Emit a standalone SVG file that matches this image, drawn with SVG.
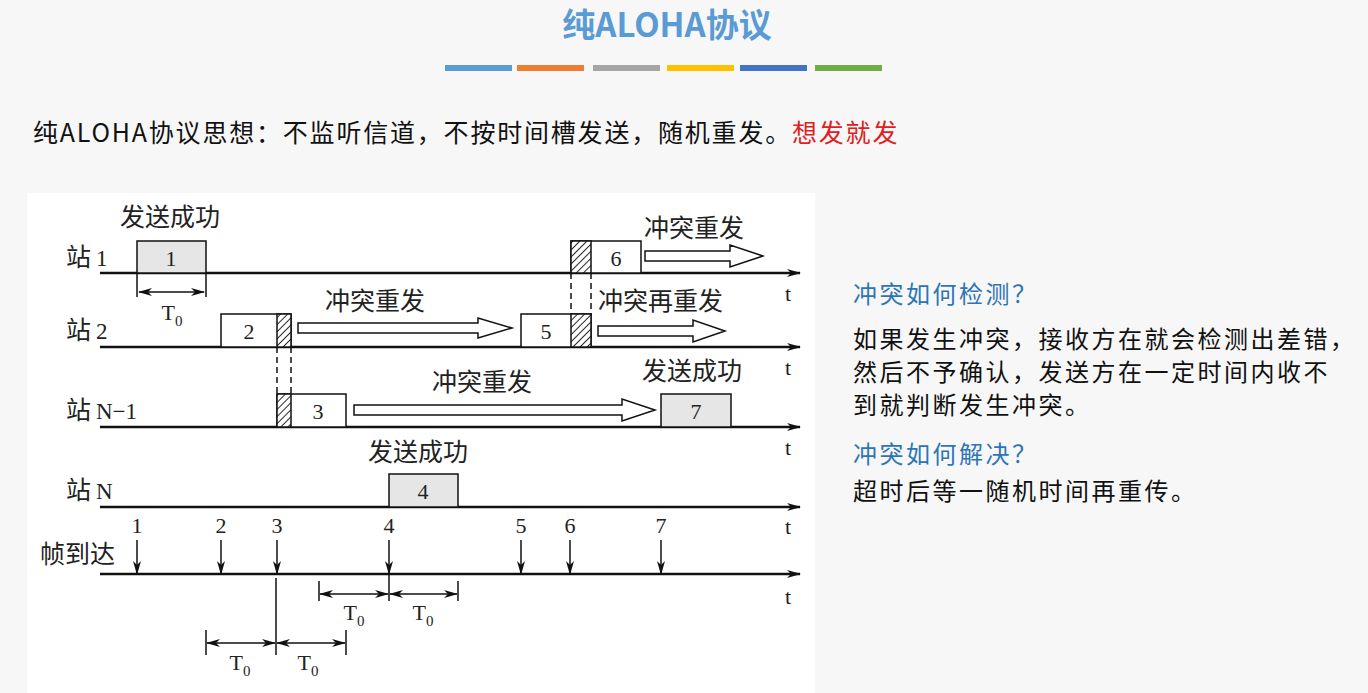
<svg xmlns="http://www.w3.org/2000/svg" width="1368" height="693" viewBox="0 0 1368 693">
<style>
.s{font-family:"Liberation Serif","Noto Sans CJK SC",serif;font-size:23px;fill:#222}
.n{font-family:"Liberation Serif",serif;font-size:22px;fill:#222;text-anchor:middle}
.c{font-family:"Noto Sans CJK SC",sans-serif;font-size:25px;fill:#222}
.ax{stroke:#111;stroke-width:2.5;fill:none;marker-end:url(#ah)}
.ln{stroke:#111;stroke-width:1.5;fill:none}
.fr{stroke:#111;stroke-width:1.5;fill:#fff}
.g{stroke:#111;stroke-width:1.5;fill:#e6e6e6}
.h{stroke:#111;stroke-width:1.5;fill:url(#hatch)}
.ha{stroke:#111;stroke-width:1.5;fill:#fff}
.dm{stroke:#111;stroke-width:1.5;marker-start:url(#sa);marker-end:url(#sa)}
.dn{stroke:#111;stroke-width:1.5;marker-end:url(#sa)}
.ds{stroke:#111;stroke-width:1.5;stroke-dasharray:6 4}
</style>
<defs>
<pattern id="hatch" width="5" height="5" patternUnits="userSpaceOnUse" patternTransform="rotate(45)"><rect width="5" height="5" fill="#fff"/><line x1="0" y1="0" x2="0" y2="5" stroke="#111" stroke-width="1.8"/></pattern>
<marker id="ah" markerWidth="14" markerHeight="8" refX="13" refY="4" orient="auto" markerUnits="userSpaceOnUse"><path d="M0,0 L14,4 L0,8 L4,4 Z" fill="#111"/></marker>
<marker id="sa" markerWidth="14" markerHeight="8" refX="13" refY="4" orient="auto-start-reverse" markerUnits="userSpaceOnUse"><path d="M0,0 L14,4 L0,8 L4,4 Z" fill="#111"/></marker>
</defs>
<rect width="1368" height="693" fill="#f7f7f7"/>
<rect x="27" y="193" width="788" height="500" fill="#fff"/>
<text x="667" y="37" text-anchor="middle" style="font-family:'Noto Sans CJK SC',sans-serif;font-size:33px;font-weight:bold;fill:#5b9bd5">纯ALOHA协议</text>
<g>
<rect x="445" y="65" width="67" height="6" fill="#5b9bd5"/><rect x="517" y="65" width="67" height="6" fill="#ed7d31"/><rect x="593" y="65" width="67" height="6" fill="#a5a5a5"/><rect x="667" y="65" width="67" height="6" fill="#ffc000"/><rect x="740" y="65" width="67" height="6" fill="#4472c4"/><rect x="815" y="65" width="67" height="6" fill="#70ad47"/>
</g>
<text x="33" y="142" style="font-family:'Noto Sans CJK SC',sans-serif;font-size:25px;letter-spacing:1.8px;fill:#111">纯ALOHA协议思想：不监听信道，不按时间槽发送，随机重发。<tspan fill="#e02020">想发就发</tspan></text>
<g style="font-family:'Noto Sans CJK SC',sans-serif;font-size:24px;letter-spacing:2.5px">
<text x="853" y="303" fill="#2e75b6">冲突如何检测？</text>
<text x="853" y="348" fill="#111">如果发生冲突，接收方在就会检测出差错，</text>
<text x="853" y="381" fill="#111">然后不予确认，发送方在一定时间内收不</text>
<text x="853" y="414" fill="#111">到就判断发生冲突。</text>
<text x="853" y="463" fill="#2e75b6">冲突如何解决？</text>
<text x="853" y="500" fill="#111">超时后等一随机时间再重传。</text>
</g>
<g id="connectors">
<line class="ax" x1="100" y1="273" x2="800" y2="273"/>
<line class="ax" x1="100" y1="347" x2="800" y2="347"/>
<line class="ax" x1="100" y1="427" x2="800" y2="427"/>
<line class="ax" x1="100" y1="507" x2="800" y2="507"/>
<line class="ax" x1="100" y1="574" x2="800" y2="574"/>
<line class="ds" x1="277" y1="347" x2="277" y2="394"/><line class="ds" x1="291" y1="347" x2="291" y2="394"/>
<line class="ds" x1="571" y1="273" x2="571" y2="314"/><line class="ds" x1="591" y1="273" x2="591" y2="314"/>
<path class="ha" d="M645,251 H730 V245 L763,256 L730,267 V261 H645 Z"/>
<path class="ha" d="M298,323 H478 V318 L512,328 L478,338 V333 H298 Z"/>
<path class="ha" d="M598,326 H693 V320 L725,331 L693,342 V336 H598 Z"/>
<path class="ha" d="M354,405 H622 V399 L655,410 L622,421 V415 H354 Z"/>
<line class="ln" x1="137" y1="273" x2="137" y2="297"/><line class="ln" x1="206" y1="273" x2="206" y2="297"/>
<line class="dm" x1="139" y1="292" x2="204" y2="292"/>
<line class="dn" x1="137" y1="540" x2="137" y2="574"/>
<line class="dn" x1="221" y1="540" x2="221" y2="574"/>
<line class="dn" x1="277" y1="540" x2="277" y2="574"/>
<line class="dn" x1="389" y1="540" x2="389" y2="574"/>
<line class="dn" x1="521" y1="540" x2="521" y2="574"/>
<line class="dn" x1="570" y1="540" x2="570" y2="574"/>
<line class="dn" x1="661" y1="540" x2="661" y2="574"/>
<line class="ln" x1="319" y1="581" x2="319" y2="601"/><line class="ln" x1="389" y1="574" x2="389" y2="601"/><line class="ln" x1="458" y1="581" x2="458" y2="601"/>
<line class="dm" x1="320" y1="594" x2="388" y2="594"/><line class="dm" x1="390" y1="594" x2="457" y2="594"/>
<line class="ln" x1="276" y1="578" x2="276" y2="655"/><line class="ln" x1="206" y1="630" x2="206" y2="655"/><line class="ln" x1="346" y1="630" x2="346" y2="655"/>
<line class="dm" x1="207" y1="643" x2="275" y2="643"/><line class="dm" x1="277" y1="643" x2="345" y2="643"/>
</g>
<g id="station1"><text class="c" x="66" y="266">站</text><text class="s" x="96" y="266">1</text></g>
<g id="station2"><text class="c" x="66" y="339">站</text><text class="s" x="96" y="339">2</text></g>
<g id="stationN1"><text class="c" x="66" y="419">站</text><text class="s" x="96" y="419">N−1</text></g>
<g id="stationN"><text class="c" x="66" y="499">站</text><text class="s" x="96" y="499">N</text></g>
<g id="arrival"><text class="c" x="40" y="563">帧到达</text></g>
<g id="frame1"><rect class="g" x="137" y="241" width="69" height="32"/><text class="n" x="171" y="266">1</text></g>
<g id="frame2"><rect class="fr" x="221" y="314" width="70" height="33"/><rect class="h" x="277" y="314" width="14" height="33"/><text class="n" x="249" y="339">2</text></g>
<g id="frame3"><rect class="fr" x="277" y="394" width="69" height="33"/><rect class="h" x="277" y="394" width="14" height="33"/><text class="n" x="318" y="419">3</text></g>
<g id="frame4"><rect class="g" x="389" y="474" width="69" height="33"/><text class="n" x="423" y="499">4</text></g>
<g id="frame5"><rect class="fr" x="521" y="314" width="70" height="33"/><rect class="h" x="571" y="314" width="20" height="33"/><text class="n" x="546" y="339">5</text></g>
<g id="frame6"><rect class="fr" x="571" y="241" width="70" height="32"/><rect class="h" x="571" y="241" width="20" height="32"/><text class="n" x="616" y="266">6</text></g>
<g id="frame7"><rect class="g" x="661" y="394" width="70" height="33"/><text class="n" x="696" y="419">7</text></g>
<g id="labels">
<text class="c" x="120" y="226">发送成功</text>
<text class="c" x="644" y="237">冲突重发</text>
<text class="c" x="325" y="310">冲突重发</text>
<text class="c" x="598" y="310">冲突再重发</text>
<text class="c" x="432" y="391">冲突重发</text>
<text class="c" x="642" y="380">发送成功</text>
<text class="c" x="368" y="461">发送成功</text>
<g class="n"><text x="788" y="301">t</text><text x="788" y="375">t</text><text x="788" y="455">t</text><text x="788" y="534">t</text><text x="788" y="604">t</text>
<text x="137" y="533">1</text><text x="221" y="533">2</text><text x="277" y="533">3</text><text x="389" y="533">4</text><text x="521" y="533">5</text><text x="570" y="533">6</text><text x="661" y="533">7</text>
<text x="172" y="320">T<tspan font-size="15" dy="6">0</tspan></text>
<text x="354" y="620">T<tspan font-size="15" dy="6">0</tspan></text>
<text x="423" y="620">T<tspan font-size="15" dy="6">0</tspan></text>
<text x="240" y="670">T<tspan font-size="15" dy="6">0</tspan></text>
<text x="308" y="670">T<tspan font-size="15" dy="6">0</tspan></text>
</g>
</g>
</svg>
